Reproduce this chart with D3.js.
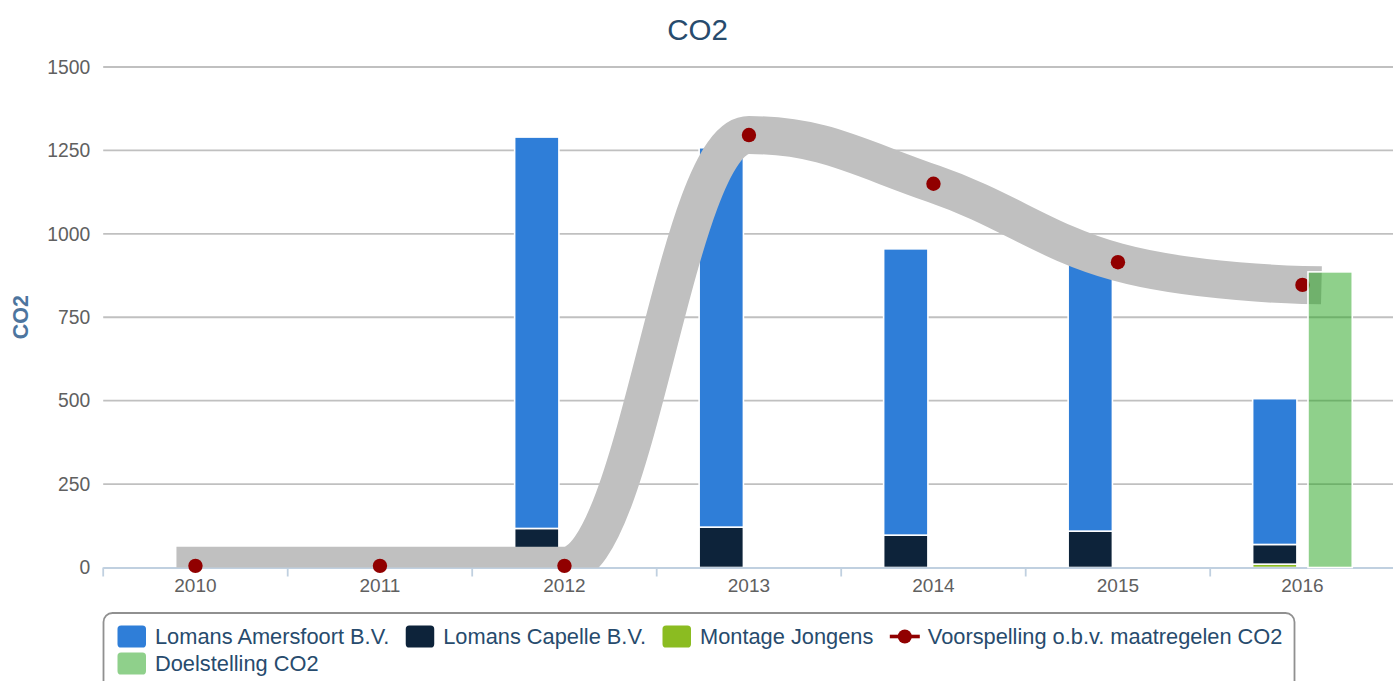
<!DOCTYPE html>
<html>
<head>
<meta charset="utf-8">
<script src="https://cdn.jsdelivr.net/npm/d3@7"></script>
<style>
  html, body { margin: 0; padding: 0; background: #fff; }
  svg { display: block; font-family: "Liberation Sans", Arial, Helvetica, sans-serif; }
</style>
</head>
<body>
<svg id="chart" width="1393" height="681"></svg>
<script>
// ---- data ----
const years = ['2010', '2011', '2012', '2013', '2014', '2015', '2016'];
const amersfoort = [0, 0, 1173, 1137, 858, 801, 437];
const capelle = [0, 0, 117, 121, 97, 109, 59];
const montage = [0, 0, 0, 0, 0, 0, 10];
const voorspelling = [5, 5, 5, 1296, 1150, 915, 847];
const doelstelling = [null, null, null, null, null, null, 886];
const yTicks = [0, 250, 500, 750, 1000, 1250, 1500];
const seriesNames = ['Lomans Amersfoort B.V.', 'Lomans Capelle B.V.', 'Montage Jongens',
                     'Voorspelling o.b.v. maatregelen CO2', 'Doelstelling CO2'];
const chartTitle = 'CO2';
const yTitle = 'CO2';

// ---- styles ----
const colors = { amersfoort: '#2f7ed8', capelle: '#0d233a', montage: '#8bbc21',
                 voorspelling: '#910000', doel: '#1fa117', band: '#c0c0c0' };

const svg = d3.select('#chart');
const W = 1393, H = 681;
const plot = { left: 103.2, right: 1394.7, top: 67, bottom: 567.5 };

const x = d3.scaleBand().domain(years).range([plot.left, plot.right]).padding(0);
const xs = d3.scaleBand().domain(['stack', 'target'])
  .range([x.bandwidth() * 0.2, x.bandwidth() * 0.8])
  .paddingInner(0.2).paddingOuter(0.1);
const y = d3.scaleLinear().domain([0, 1500]).range([plot.bottom, plot.top]);

svg.append('defs').append('clipPath').attr('id', 'plotClip')
  .append('rect').attr('x', plot.left).attr('y', 0)
  .attr('width', plot.right - plot.left).attr('height', plot.bottom);

// title
svg.append('text').attr('x', W / 2 + 1).attr('y', 40).attr('text-anchor', 'middle')
  .attr('fill', '#274b6d').attr('font-size', 29.5).text(chartTitle);

// gridlines
const grid = svg.append('g');
grid.selectAll('line').data(yTicks.filter(d => d > 0)).join('line')
  .attr('x1', plot.left).attr('x2', plot.right)
  .attr('y1', d => y(d)).attr('y2', d => y(d))
  .attr('stroke', '#c0c0c0').attr('stroke-width', 1.8);

// y axis labels
const yAxis = d3.axisLeft(y).tickValues(yTicks).tickFormat(d3.format('d')).tickSize(0).tickPadding(0);
const yg = svg.append('g').attr('transform', `translate(${plot.left - 13},0)`).call(yAxis);
yg.select('.domain').remove();
yg.selectAll('text').attr('font-size', 19.3).attr('fill', '#606060')
  .attr('font-family', '"Liberation Sans", Arial, sans-serif');

// y title
svg.append('text').attr('transform', `translate(28,${(plot.top + plot.bottom) / 2}) rotate(-90)`)
  .attr('text-anchor', 'middle').attr('fill', '#4d759e').attr('font-weight', 'bold')
  .attr('font-size', 21.5).text(yTitle);

// stacked columns
const stackData = years.map((yr, i) => ({ year: yr, amersfoort: amersfoort[i], capelle: capelle[i], montage: montage[i] }));
const stack = d3.stack().keys(['montage', 'capelle', 'amersfoort'])(stackData);
const cols = svg.append('g');
stack.forEach(layer => {
  cols.append('g').selectAll('rect').data(layer.filter(d => d[1] - d[0] > 0)).join('rect')
    .attr('x', d => x(d.data.year) + xs('stack'))
    .attr('width', xs.bandwidth())
    .attr('y', d => y(d[1]))
    .attr('height', d => y(d[0]) - y(d[1]))
    .attr('fill', colors[layer.key])
    .attr('stroke', '#fff').attr('stroke-width', 1.6);
});

// x axis
const xAxisG = svg.append('g');
xAxisG.append('line').attr('x1', plot.left).attr('x2', plot.right)
  .attr('y1', plot.bottom + 0.5).attr('y2', plot.bottom + 0.5)
  .attr('stroke', '#c0d0e0').attr('stroke-width', 2);
const boundaries = years.map(yr => x(yr)).concat([x(years[years.length - 1]) + x.bandwidth()]);
xAxisG.selectAll('line.tick').data(boundaries).join('line').attr('class', 'tick')
  .attr('x1', d => d).attr('x2', d => d)
  .attr('y1', plot.bottom).attr('y2', plot.bottom + 9)
  .attr('stroke', '#c0d0e0').attr('stroke-width', 1.8);
xAxisG.selectAll('text').data(years).join('text')
  .attr('x', d => x(d) + x.bandwidth() / 2).attr('y', 592)
  .attr('text-anchor', 'middle').attr('font-size', 19).attr('fill', '#606060').text(d => d);

// Highcharts-like spline
function hcSpline(pts) {
  const n = pts.length, L = [], R = [];
  for (let i = 0; i < n; i++) {
    const [px, py] = pts[i];
    if (i === 0 || i === n - 1) { L.push([px, py]); R.push([px, py]); continue; }
    const [lx, ly] = pts[i - 1], [nx, ny] = pts[i + 1];
    let lcx = (1.5 * px + lx) / 2.5, lcy = (1.5 * py + ly) / 2.5;
    let rcx = (1.5 * px + nx) / 2.5, rcy = (1.5 * py + ny) / 2.5;
    if (rcx !== lcx) {
      const c = ((rcy - lcy) * (rcx - px)) / (rcx - lcx) + py - rcy;
      lcy += c; rcy += c;
    }
    if (lcy > Math.max(ly, py)) { lcy = Math.max(ly, py); rcy = 2 * py - lcy; }
    else if (lcy < Math.min(ly, py)) { lcy = Math.min(ly, py); rcy = 2 * py - lcy; }
    if (rcy > Math.max(py, ny)) { rcy = Math.max(py, ny); lcy = 2 * py - rcy; }
    else if (rcy < Math.min(py, ny)) { rcy = Math.min(py, ny); lcy = 2 * py - rcy; }
    L.push([lcx, lcy]); R.push([rcx, rcy]);
  }
  const p = d3.path();
  p.moveTo(pts[0][0], pts[0][1]);
  for (let i = 1; i < n; i++) {
    p.bezierCurveTo(R[i - 1][0], R[i - 1][1], L[i][0], L[i][1], pts[i][0], pts[i][1]);
  }
  return p.toString();
}
const fPts = years.map((yr, i) => [x(yr) + x.bandwidth() / 2, y(voorspelling[i])]);
svg.append('path').attr('d', hcSpline(fPts)).attr('fill', 'none')
  .attr('clip-path', 'url(#plotClip)')
  .attr('stroke', colors.band).attr('stroke-width', 38).attr('stroke-linecap', 'square');
svg.append('g').selectAll('circle').data(fPts).join('circle')
  .attr('cx', d => d[0]).attr('cy', d => d[1]).attr('r', 7.2).attr('fill', colors.voorspelling);

// target column
svg.append('g').selectAll('rect').data(years.map((yr, i) => ({ year: yr, v: doelstelling[i] })).filter(d => d.v != null))
  .join('rect')
  .attr('x', d => x(d.year) + xs('target')).attr('width', xs.bandwidth())
  .attr('y', d => y(d.v)).attr('height', d => y(0) - y(d.v))
  .attr('fill', colors.doel).attr('fill-opacity', 0.5)
  .attr('stroke', '#fff').attr('stroke-width', 1.6);

// legend
const lg = svg.append('g');
lg.append('rect').attr('x', 103.5).attr('y', 613).attr('width', 1191).attr('height', 90)
  .attr('rx', 9).attr('fill', 'none').attr('stroke', '#909090').attr('stroke-width', 1.8);
const items = [
  { name: seriesNames[0], type: 'box', color: colors.amersfoort, op: 1, row: 0 },
  { name: seriesNames[1], type: 'box', color: colors.capelle, op: 1, row: 0 },
  { name: seriesNames[2], type: 'box', color: colors.montage, op: 1, row: 0 },
  { name: seriesNames[3], type: 'line', color: colors.voorspelling, op: 1, row: 0 },
  { name: seriesNames[4], type: 'box', color: colors.doel, op: 0.5, row: 1 }
];
const rowY = [636.5, 663.5];
let cx = 117.5, lastRow = 0;
items.forEach(it => {
  if (it.row !== lastRow) { cx = 117.5; lastRow = it.row; }
  const cy = rowY[it.row];
  const g = lg.append('g');
  if (it.type === 'box') {
    g.append('rect').attr('x', cx).attr('y', cy - 11).attr('width', 28.5).attr('height', 22)
      .attr('rx', 3.6).attr('fill', it.color).attr('fill-opacity', it.op);
  } else {
    g.append('line').attr('x1', cx).attr('x2', cx + 30).attr('y1', cy).attr('y2', cy)
      .attr('stroke', it.color).attr('stroke-width', 3.6);
    g.append('circle').attr('cx', cx + 15).attr('cy', cy).attr('r', 7).attr('fill', it.color);
  }
  const tx = cx + (it.type === 'box' ? 37.5 : 38);
  const t = g.append('text').attr('x', tx).attr('y', cy).attr('dy', '0.35em')
    .attr('font-size', 21.8).attr('fill', '#274b6d').text(it.name);
  cx = tx + t.node().getComputedTextLength() + 16.5;
});
</script>
</body>
</html>
